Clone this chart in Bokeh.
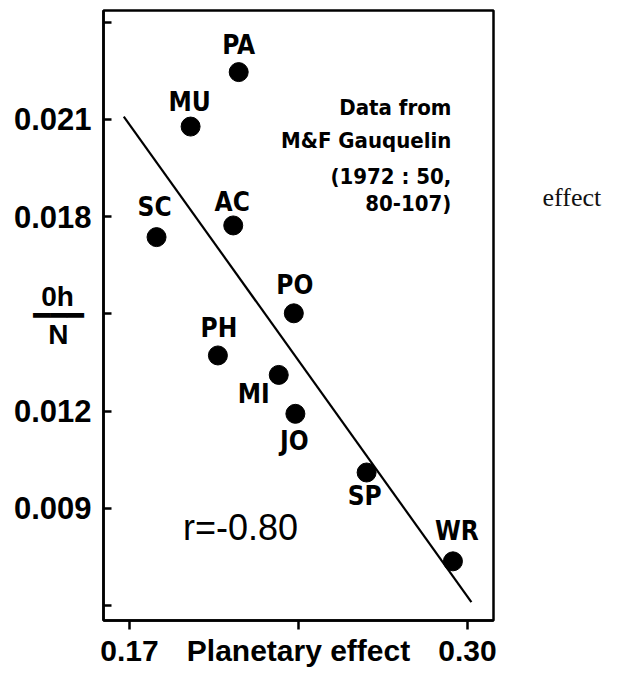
from bokeh.plotting import figure
from bokeh.models import ColumnDataSource, Range1d, FixedTicker, Label, LinearAxis
from bokeh.core.properties import value
from bokeh.embed import file_html
from bokeh.resources import INLINE

# ---- data ----
codes = ["PA", "MU", "AC", "SC", "PO", "PH", "MI", "JO", "SP", "WR"]
planetary_effect = [0.2120, 0.1935, 0.2099, 0.1804, 0.2332, 0.2040, 0.2274, 0.2338, 0.2612, 0.2944]
oh_over_n = [0.02246, 0.02078, 0.01773, 0.01737, 0.01502, 0.01372, 0.01312, 0.01192, 0.01011, 0.00737]
fit_x = [0.1678, 0.3015]
fit_y = [0.02109, 0.00611]
y_ticks = [0.006, 0.009, 0.012, 0.015, 0.018, 0.021, 0.024]
y_tick_labels = ["", "0.009", "0.012", "", "0.018", "0.021", ""]
y_title = "0h\u00a0\u200a\n\u2501\u2501\u2501\nN\u00a0\u00a0"
x_ticks = [0.17, 0.235, 0.30]
x_tick_labels = ["0.17", "Planetary effect", "0.30"]
note_lines = ["Data from", "M&F Gauquelin", "(1972 : 50,", "80-107)"]
r_text = "r=-0.80"
side_word_at = [0.01859]
side_word = ["effect"]

# ---- label placement (screen px offsets from each point) ----
label_dx = [0, -1, -1, -2, 1, 1, -25, -1, -2, 4]
label_dy = [-27, -25, -23, -30, -28, -27, 19, 27, 24, -30]

AX_FONT = "Liberation Sans"
LBL_FONT = "DejaVu Sans Condensed"

p = figure(frame_width=390, frame_height=610,
           x_range=Range1d(0.16, 0.31), y_range=Range1d(0.005545, 0.02436),
           output_backend="svg", toolbar_location=None,
           min_border_left=103, min_border_right=118, min_border_top=10, min_border_bottom=45)
p.grid.visible = False
p.outline_line_color = "black"
p.outline_line_width = 2.5
p.outline_line_alpha = 1.0

xa = p.xaxis[0]
xa.ticker = FixedTicker(ticks=x_ticks)
xa.major_label_overrides = dict(zip(x_ticks, x_tick_labels))
xa.major_tick_in = 0
xa.major_tick_out = 9
xa.minor_tick_line_color = None
xa.major_tick_line_width = 2.5
xa.axis_line_width = 2.5
xa.major_label_text_font = AX_FONT
xa.major_label_text_font_style = "bold"
xa.major_label_text_font_size = "30px"
xa.major_label_text_color = "black"
xa.major_label_standoff = 4

ya = p.yaxis[0]
ya.ticker = FixedTicker(ticks=y_ticks)
ya.major_label_overrides = dict(zip(y_ticks, y_tick_labels))
ya.major_tick_in = 8
ya.major_tick_out = 0
ya.minor_tick_line_color = None
ya.major_tick_line_width = 2.5
ya.axis_line_width = 2.5
ya.major_label_text_font = AX_FONT
ya.major_label_text_font_style = "bold"
ya.major_label_text_font_size = "31px"
ya.major_label_text_color = "black"
ya.major_label_standoff = 12
ya.axis_label = y_title
ya.axis_label_orientation = "horizontal"
ya.axis_label_standoff = -73
ya.axis_label_text_font = "Liberation Sans, DejaVu Sans"
ya.axis_label_text_font_style = "bold"
ya.axis_label_text_font_size = "28px"
ya.axis_label_text_color = "black"
ya.axis_label_text_line_height = 0.6

# stray word to the right of the chart, as a bare right axis label
ra = LinearAxis(ticker=FixedTicker(ticks=side_word_at),
                major_label_overrides=dict(zip(side_word_at, side_word)))
ra.axis_line_color = None
ra.major_tick_line_color = None
ra.minor_tick_line_color = None
ra.major_label_standoff = 43
ra.major_label_text_font = "Liberation Serif"
ra.major_label_text_font_size = "26px"
ra.major_label_text_color = "#111111"
p.add_layout(ra, "right")

p.line(fit_x, fit_y, line_color="black", line_width=2.2)

src = ColumnDataSource(dict(x=planetary_effect, y=oh_over_n, code=codes, dx=label_dx, dy=label_dy))
p.scatter("x", "y", source=src, size=19, fill_color="black", line_color="black")
p.text("x", "y", text="code", source=src, x_offset="dx", y_offset="dy",
       text_font=value(LBL_FONT), text_font_style="bold", text_font_size="26px",
       text_align="center", text_baseline="middle", text_color="black")

# note, right aligned
note_y = [0.02137, 0.02035, 0.01924, 0.01841]
for t, yy in zip(note_lines, note_y):
    p.add_layout(Label(x=0.2938, y=yy, text=t, text_align="right", text_baseline="middle",
                       text_font=LBL_FONT, text_font_style="bold", text_font_size="22px",
                       text_color="black"))

p.add_layout(Label(x=0.2127, y=0.00841, text=r_text, text_align="center", text_baseline="middle",
                   text_font=AX_FONT, text_font_size="36px", text_color="black"))

open("out.html", "w").write(file_html(p, INLINE))
